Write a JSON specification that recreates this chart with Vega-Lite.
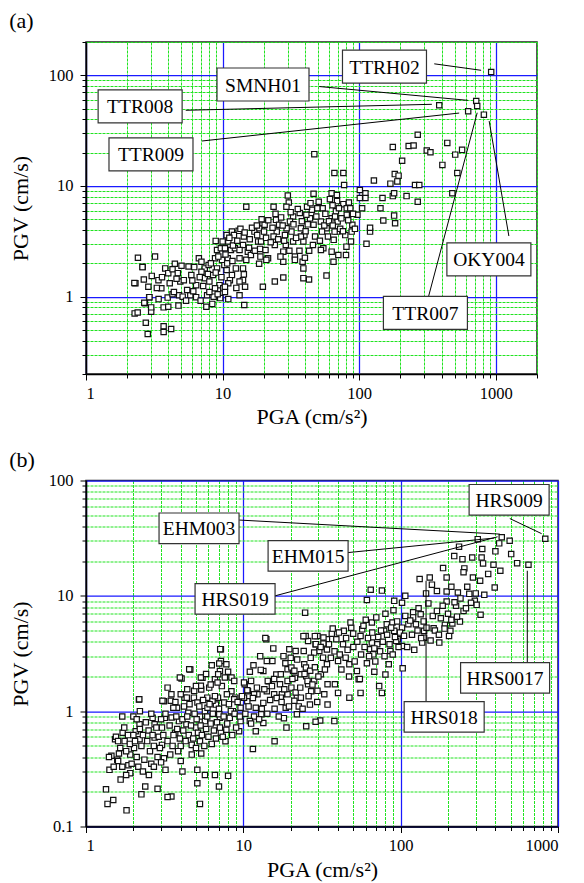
{
"$schema": "https://vega.github.io/schema/vega-lite/v6.json",
"padding": {"left": 8, "top": 9, "right": 10, "bottom": 2},
"spacing": 18.5,
"config": {
 "font": "Liberation Serif",
 "view": {"stroke": "#222", "strokeWidth": 1.5},
 "title": {"font": "Liberation Serif", "fontSize": 22, "fontWeight": "normal", "anchor": "start", "frame": "bounds", "offset": 1, "color": "black"},
 "text": {"font": "Liberation Serif"},
 "axis": {"labelFont": "Liberation Serif", "labelFontSize": 16.5, "labelColor": "black", "titleFont": "Liberation Serif", "titleFontSize": 22, "titleFontWeight": "normal", "titleColor": "black", "domainColor": "black", "domainWidth": 1.5, "tickColor": "black", "tickWidth": 1, "labelOverlap": false, "grid": true, "format": "~g"}
},
"datasets": {
 "a": [
  {"pga":924,"pgv":107},{"pga":718,"pgv":58.6},{"pga":730,"pgv":52.8},{"pga":627,"pgv":47.3},{"pga":817,"pgv":44.1},{"pga":385,"pgv":53.6},
  {"pga":176,"pgv":22.5},{"pga":206,"pgv":16.9},{"pga":230,"pgv":23},{"pga":250,"pgv":23.2},{"pga":268,"pgv":29},{"pga":312,"pgv":20.9},{"pga":332,"pgv":20.2},{"pga":406,"pgv":15.5},{"pga":441,"pgv":24.5},{"pga":504,"pgv":19.2},{"pga":566,"pgv":21.2},{"pga":522,"pgv":13.1},{"pga":480,"pgv":8.6},{"pga":169,"pgv":10.5},{"pga":182,"pgv":12.8},{"pga":194,"pgv":12.4},{"pga":190,"pgv":11},{"pga":176,"pgv":8.1},{"pga":180,"pgv":8.6},{"pga":222,"pgv":8.1},{"pga":256,"pgv":10.2},{"pga":275,"pgv":10.2},{"pga":268,"pgv":7.2},{"pga":128,"pgv":11.2},{"pga":143,"pgv":6.3},{"pga":148,"pgv":7.8},{"pga":150,"pgv":4.87},{"pga":180,"pgv":5.4},{"pga":183,"pgv":4.6},{"pga":113,"pgv":3.0},{"pga":120,"pgv":3.87},{"pga":120,"pgv":4.2},{"pga":111,"pgv":8.6},{"pga":111,"pgv":7.8},{"pga":105,"pgv":6.3},{"pga":101,"pgv":9.2},{"pga":101,"pgv":7.8},{"pga":97,"pgv":5.5},
  {"pga":46.9,"pgv":19.4},{"pga":65.8,"pgv":13.1},{"pga":76.5,"pgv":13.1},{"pga":77.5,"pgv":10.2},{"pga":46.3,"pgv":8.5},{"pga":62.8,"pgv":8.6},{"pga":68.6,"pgv":8.3},{"pga":68.8,"pgv":7.3},{"pga":76.5,"pgv":6.85},{"pga":84,"pgv":7.1},{"pga":81,"pgv":6.3},{"pga":81,"pgv":5.5},{"pga":67.5,"pgv":5.9},{"pga":63.8,"pgv":6.7},{"pga":62.8,"pgv":5.1},{"pga":69.5,"pgv":4.77},{"pga":68.8,"pgv":3.87},{"pga":66,"pgv":3.87},{"pga":65,"pgv":3.26},{"pga":62.8,"pgv":2.55},{"pga":64.8,"pgv":2.07},{"pga":70.3,"pgv":2.38},{"pga":79,"pgv":3.6},{"pga":80.6,"pgv":2.83},{"pga":80,"pgv":2.38},{"pga":89,"pgv":4.46},{"pga":87,"pgv":3.15},{"pga":88,"pgv":3.87},{"pga":57.6,"pgv":1.55},{"pga":57.7,"pgv":4.15},{"pga":54,"pgv":6.3},{"pga":49.3,"pgv":6.3},{"pga":52.4,"pgv":4.77},{"pga":53.4,"pgv":3.87},{"pga":54.6,"pgv":2.74},{"pga":52.4,"pgv":2.64},{"pga":45,"pgv":6.1},{"pga":43.6,"pgv":5.1},{"pga":41.5,"pgv":6.5},{"pga":41,"pgv":5.5},{"pga":46.3,"pgv":4.46},{"pga":45.8,"pgv":2.93},{"pga":39.7,"pgv":3.6},{"pga":39,"pgv":3.15},{"pga":37.4,"pgv":4.15},{"pga":37.4,"pgv":3.49},{"pga":36.7,"pgv":5.7},{"pga":38.5,"pgv":2.07},{"pga":39,"pgv":1.8},{"pga":39,"pgv":1.47},{"pga":42.9,"pgv":1.43},{"pga":40,"pgv":2.25},{"pga":33.8,"pgv":2.3},{"pga":33.8,"pgv":2.15},{"pga":32.8,"pgv":5.3},{"pga":31.1,"pgv":4.77},{"pga":31.9,"pgv":3.87},{"pga":32.8,"pgv":3.15},{"pga":29,"pgv":2.93},{"pga":27.8,"pgv":2.55},{"pga":28.6,"pgv":3.6},{"pga":29.4,"pgv":4.15},{"pga":30,"pgv":8.2},{"pga":30.5,"pgv":7.1},{"pga":29.3,"pgv":6.5},{"pga":27.8,"pgv":2.07},{"pga":27.8,"pgv":1.49},{"pga":24.1,"pgv":1.37},{"pga":23.6,"pgv":6.5},{"pga":24.6,"pgv":4.94},{"pga":25.9,"pgv":4.46},{"pga":24.9,"pgv":3.87},{"pga":23.6,"pgv":3.49},{"pga":24.1,"pgv":2.93},{"pga":18.2,"pgv":3.15},{"pga":17.1,"pgv":3.87},{"pga":18.6,"pgv":4.15},{"pga":19.6,"pgv":4.6},{"pga":20.3,"pgv":4.46},{"pga":20.1,"pgv":3.87},{"pga":17.9,"pgv":3.6},{"pga":19.1,"pgv":3.15},{"pga":18.8,"pgv":2.7},{"pga":20.6,"pgv":2.64},{"pga":21.5,"pgv":2.22},{"pga":20.9,"pgv":2.15},{"pga":18.5,"pgv":1.98},{"pga":19.7,"pgv":1.23},
  {"pga":10,"pgv":3.15},{"pga":11.7,"pgv":3.87},{"pga":13.1,"pgv":3.93},{"pga":12.1,"pgv":3.6},{"pga":10.7,"pgv":3.6},{"pga":8.9,"pgv":3.19},{"pga":9.1,"pgv":2.64},{"pga":9.7,"pgv":2.74},{"pga":10.4,"pgv":2.74},{"pga":11,"pgv":3.15},{"pga":11.5,"pgv":2.64},{"pga":12.3,"pgv":2.74},{"pga":14.3,"pgv":3.49},{"pga":14.1,"pgv":2.93},{"pga":14.9,"pgv":6.5},{"pga":13.3,"pgv":2.22},{"pga":14.9,"pgv":2.15},{"pga":15.3,"pgv":2.55},{"pga":15.6,"pgv":2.77},{"pga":16.1,"pgv":2.38},{"pga":14.1,"pgv":1.8},{"pga":14.3,"pgv":1.59},{"pga":14.1,"pgv":1.41},{"pga":14.6,"pgv":1.23},{"pga":12.5,"pgv":1.8},{"pga":11.7,"pgv":1.57},{"pga":11.3,"pgv":1.41},{"pga":11,"pgv":1.32},{"pga":10.7,"pgv":1.74},{"pga":10.3,"pgv":1.93},{"pga":10.9,"pgv":2.22},{"pga":9.9,"pgv":2.15},{"pga":13.3,"pgv":2.64},{"pga":13.3,"pgv":1.37},
  {"pga":2.4,"pgv":2.25},{"pga":3.2,"pgv":2.3},{"pga":2.6,"pgv":1.85},{"pga":2.3,"pgv":1.32},{"pga":2.65,"pgv":1.43},{"pga":2.86,"pgv":1.23},{"pga":3.03,"pgv":1.54},{"pga":3.39,"pgv":1.41},{"pga":3.56,"pgv":1.19},{"pga":3.8,"pgv":1.8},{"pga":4.0,"pgv":1.63},{"pga":4.47,"pgv":1.98},{"pga":4.3,"pgv":1.77},{"pga":4.1,"pgv":1.32},{"pga":4.7,"pgv":1.63},{"pga":4.9,"pgv":1.37},{"pga":5.63,"pgv":1.87},{"pga":5.2,"pgv":1.41},{"pga":5.9,"pgv":1.57},{"pga":6.4,"pgv":1.27},{"pga":6.7,"pgv":2.22},{"pga":7.0,"pgv":2.07},{"pga":7.4,"pgv":1.8},{"pga":7.0,"pgv":1.68},{"pga":7.4,"pgv":1.47},{"pga":7.9,"pgv":1.93},{"pga":8.0,"pgv":1.37},{"pga":8.5,"pgv":1.57},{"pga":8.8,"pgv":2.22},{"pga":9.1,"pgv":1.8},{"pga":9.5,"pgv":1.27},{"pga":10.1,"pgv":1.19},{"pga":8.8,"pgv":1.19},{"pga":2.27,"pgv":0.706},{"pga":2.39,"pgv":0.72},{"pga":2.7,"pgv":0.87},{"pga":2.9,"pgv":0.99},{"pga":3.0,"pgv":0.73},{"pga":2.74,"pgv":0.58},{"pga":2.83,"pgv":0.46},{"pga":3.0,"pgv":0.8},{"pga":3.7,"pgv":0.8},{"pga":3.7,"pgv":0.54},{"pga":3.7,"pgv":0.48},{"pga":4.2,"pgv":0.51},{"pga":3.4,"pgv":0.95},{"pga":3.96,"pgv":0.98},{"pga":4.0,"pgv":0.81},{"pga":4.3,"pgv":1.05},{"pga":4.75,"pgv":0.83},{"pga":4.8,"pgv":1.03},{"pga":5.1,"pgv":1.0},{"pga":5.8,"pgv":1.03},{"pga":6.4,"pgv":0.99},{"pga":7.6,"pgv":0.81},{"pga":7.7,"pgv":1.03},{"pga":8.4,"pgv":0.86},{"pga":8.6,"pgv":1.0},{"pga":9.6,"pgv":0.97},{"pga":10.4,"pgv":1.1},{"pga":11,"pgv":0.95},{"pga":13.3,"pgv":1.03},{"pga":14.4,"pgv":0.84},{"pga":10.4,"pgv":1.23},{"pga":2.59,"pgv":1.85},{"pga":2.26,"pgv":1.33},{"pga":2.67,"pgv":0.88},{"pga":2.91,"pgv":0.99},
  {"pga":10.5,"pgv":2.4},{"pga":11.2,"pgv":3.4},{"pga":11.9,"pgv":2.9},{"pga":12.8,"pgv":3.2},{"pga":13.5,"pgv":4.1},{"pga":14.5,"pgv":3.8},{"pga":15.8,"pgv":3.3},{"pga":16.4,"pgv":4.2},{"pga":17.2,"pgv":2.6},{"pga":17.8,"pgv":4.4},{"pga":18.9,"pgv":2.3},{"pga":19.3,"pgv":5.0},{"pga":20.8,"pgv":3.4},{"pga":21.6,"pgv":4.9},{"pga":22.5,"pgv":3.1},{"pga":23.2,"pgv":4.2},{"pga":24.4,"pgv":5.6},{"pga":25.5,"pgv":3.3},{"pga":26.5,"pgv":2.3},{"pga":26.8,"pgv":5.2},{"pga":27.5,"pgv":4.4},{"pga":28.2,"pgv":3.2},{"pga":30.8,"pgv":2.6},{"pga":31.5,"pgv":5.8},{"pga":33,"pgv":4.5},{"pga":34.5,"pgv":3.4},{"pga":35.5,"pgv":6.2},{"pga":36.5,"pgv":2.6},{"pga":38,"pgv":4.8},{"pga":40.5,"pgv":3.9},{"pga":42,"pgv":4.5},{"pga":43,"pgv":2.6},{"pga":44,"pgv":7.0},{"pga":47.5,"pgv":3.5},{"pga":48.5,"pgv":5.3},{"pga":50.5,"pgv":7.2},{"pga":51.5,"pgv":3.2},{"pga":55.5,"pgv":4.4},{"pga":56.5,"pgv":5.6},{"pga":59,"pgv":3.5},{"pga":60,"pgv":4.8},{"pga":61,"pgv":7.6},{"pga":64,"pgv":4.4},{"pga":66.5,"pgv":5.3},{"pga":71,"pgv":6.3},{"pga":72.5,"pgv":4.1},{"pga":74,"pgv":5.1},{"pga":76,"pgv":3.9},{"pga":83,"pgv":4.9},{"pga":86,"pgv":6.3},{"pga":90,"pgv":5.6},{"pga":93,"pgv":4.1},{"pga":3.3,"pgv":1.2},{"pga":3.6,"pgv":1.5},{"pga":4.4,"pgv":1.1},{"pga":4.6,"pgv":1.45},{"pga":5.0,"pgv":1.9},{"pga":5.5,"pgv":1.15},{"pga":6.0,"pgv":1.4},{"pga":6.2,"pgv":1.85},{"pga":6.8,"pgv":1.5},{"pga":7.2,"pgv":1.25},{"pga":7.8,"pgv":1.6},{"pga":8.2,"pgv":2.0},{"pga":8.9,"pgv":1.65},{"pga":9.3,"pgv":2.3},{"pga":9.8,"pgv":1.5},{"pga":10.8,"pgv":2.0},{"pga":11.8,"pgv":2.1},{"pga":12.6,"pgv":1.2},{"pga":5.4,"pgv":0.92},{"pga":6.1,"pgv":1.12},{"pga":6.9,"pgv":0.92},{"pga":8.0,"pgv":1.1},{"pga":9.2,"pgv":1.05}
 ],
 "b": [
  {"pga":830,"pgv":31.3},{"pga":439,"pgv":32.2},{"pga":493,"pgv":30},{"pga":423,"pgv":28.5},{"pga":309,"pgv":31},{"pga":235,"pgv":26.7},{"pga":330,"pgv":25.5},{"pga":327,"pgv":21.5},{"pga":285,"pgv":21.5},{"pga":219,"pgv":22.1},{"pga":247,"pgv":20.8},{"pga":504,"pgv":23},{"pga":400,"pgv":24.3},{"pga":550,"pgv":19.2},{"pga":649,"pgv":18.6},{"pga":334,"pgv":19.1},{"pga":389,"pgv":18.6},{"pga":186,"pgv":17.4},{"pga":254,"pgv":17.3},{"pga":251,"pgv":16},{"pga":288,"pgv":14.4},{"pga":196,"pgv":14.4},{"pga":153,"pgv":14.4},{"pga":132,"pgv":14},{"pga":158,"pgv":12.5},{"pga":396,"pgv":11.8},{"pga":145,"pgv":10.5},{"pga":107,"pgv":10},{"pga":91,"pgv":9.05},{"pga":102,"pgv":8.7},{"pga":76,"pgv":11.1},{"pga":64.5,"pgv":11.3},{"pga":61,"pgv":9.2},{"pga":196,"pgv":10.9},{"pga":231,"pgv":10.7},{"pga":273,"pgv":10.4},{"pga":340,"pgv":10.2},{"pga":296,"pgv":9.06},{"pga":304,"pgv":8.35},{"pga":322,"pgv":6.85},{"pga":196,"pgv":8.93},{"pga":225,"pgv":8.2},{"pga":251,"pgv":7.4},{"pga":238,"pgv":5.98},{"pga":213,"pgv":5.75},{"pga":207,"pgv":4.97},{"pga":203,"pgv":4.49},{"pga":176,"pgv":3.93},{"pga":191,"pgv":5.6},{"pga":162,"pgv":5.23},{"pga":141,"pgv":4.97},{"pga":141,"pgv":4.34},{"pga":137,"pgv":3.93},{"pga":134,"pgv":6.93},{"pga":120,"pgv":7.2},{"pga":120,"pgv":6.5},{"pga":125,"pgv":5.67},{"pga":112,"pgv":5.67},{"pga":107,"pgv":6.7},{"pga":102,"pgv":5.3},{"pga":99,"pgv":4.8},{"pga":96,"pgv":4.2},{"pga":102,"pgv":3.67},{"pga":103,"pgv":2.35},{"pga":86,"pgv":3.32},{"pga":84,"pgv":2.55},{"pga":80,"pgv":2.08},{"pga":76,"pgv":1.44},{"pga":73,"pgv":1.65},{"pga":71,"pgv":3.8},{"pga":65.6,"pgv":3.93},{"pga":64,"pgv":3.44},{"pga":67,"pgv":3.11},{"pga":78.5,"pgv":4.97},{"pga":81.6,"pgv":5.67},{"pga":88.7,"pgv":5.87},{"pga":91,"pgv":4.97},{"pga":93.6,"pgv":4.06},{"pga":65.6,"pgv":5.87},{"pga":57,"pgv":5.12},{"pga":55.6,"pgv":4.49},{"pga":48.5,"pgv":5.3},{"pga":48,"pgv":5.87},{"pga":49.9,"pgv":4.7},{"pga":43.5,"pgv":4.97},{"pga":40.5,"pgv":4.8},{"pga":36.5,"pgv":4.7},{"pga":34,"pgv":4.2},{"pga":29.6,"pgv":4.49},{"pga":28.8,"pgv":3.8},{"pga":30.4,"pgv":3.32},{"pga":32.1,"pgv":2.91},{"pga":34,"pgv":2.55},{"pga":40,"pgv":2.72},{"pga":44.7,"pgv":2.91},{"pga":47.2,"pgv":2.55},{"pga":52.7,"pgv":2.23},{"pga":54.1,"pgv":1.89},{"pga":55.6,"pgv":1.44},{"pga":47.2,"pgv":1.31},{"pga":40,"pgv":1.44},{"pga":37.9,"pgv":0.82},{"pga":34.3,"pgv":1.14},{"pga":30.8,"pgv":0.83},{"pga":28.8,"pgv":0.81},{"pga":25.1,"pgv":0.74},{"pga":26.5,"pgv":1.14},{"pga":27,"pgv":1.49},{"pga":25.8,"pgv":1.71},{"pga":25.1,"pgv":2.01},{"pga":24.4,"pgv":2.55},{"pga":24.2,"pgv":3.32},{"pga":25.8,"pgv":4.06},{"pga":24.7,"pgv":7.15},{"pga":24.9,"pgv":4.49},{"pga":21.5,"pgv":3.32},{"pga":19.6,"pgv":3.44},{"pga":20.7,"pgv":2.23},{"pga":21.3,"pgv":1.95},{"pga":20.2,"pgv":1.6},{"pga":21.9,"pgv":1.31},{"pga":22.5,"pgv":1.1},{"pga":21.9,"pgv":0.94},{"pga":18.8,"pgv":0.72},{"pga":18.1,"pgv":0.87},{"pga":18.6,"pgv":1.07},{"pga":17.6,"pgv":1.4},{"pga":17.1,"pgv":1.71},{"pga":16.2,"pgv":2.08},{"pga":15.8,"pgv":0.548},{"pga":15.3,"pgv":2.72},{"pga":14.1,"pgv":2.72},{"pga":14,"pgv":4.2},{"pga":14.5,"pgv":1.82},{"pga":14.1,"pgv":1.49},{"pga":13.4,"pgv":1.18},{"pga":13,"pgv":0.94},{"pga":13.4,"pgv":2.23},{"pga":13.4,"pgv":0.79},{"pga":12.3,"pgv":1.4},{"pga":12,"pgv":1.07},{"pga":11.7,"pgv":0.9},{"pga":12,"pgv":0.67},{"pga":11.5,"pgv":0.47},{"pga":11,"pgv":0.82},{"pga":10.7,"pgv":1.49},{"pga":10.6,"pgv":1.22},{"pga":10.2,"pgv":1.71},{"pga":9.6,"pgv":1.07},{"pga":9.6,"pgv":0.82},{"pga":9.4,"pgv":0.67},{"pga":8.9,"pgv":1.31},{"pga":8.4,"pgv":1.49},{"pga":8.6,"pgv":1.0},{"pga":8.2,"pgv":0.875},{"pga":7.8,"pgv":0.69},{"pga":7.7,"pgv":0.548},{"pga":7.8,"pgv":2.55},{"pga":7.2,"pgv":3.44},{"pga":7.2,"pgv":2.72},{"pga":7.1,"pgv":2.23},{"pga":7.3,"pgv":1.65},{"pga":6.9,"pgv":1.31},{"pga":6.7,"pgv":1.14},{"pga":7.1,"pgv":0.875},{"pga":7.2,"pgv":0.65},{"pga":7.0,"pgv":0.222},{"pga":8.0,"pgv":0.275},{"pga":6.6,"pgv":0.28},{"pga":5.7,"pgv":0.28},{"pga":5.3,"pgv":0.157},{"pga":5.1,"pgv":0.237},{"pga":5.1,"pgv":0.31},{"pga":6.6,"pgv":1.89},{"pga":5.9,"pgv":1.31},{"pga":5.7,"pgv":1.0},{"pga":5.7,"pgv":0.82},{"pga":5.5,"pgv":1.95},{"pga":5.4,"pgv":1.54},{"pga":5.3,"pgv":0.9},{"pga":5.0,"pgv":0.72},{"pga":5.3,"pgv":0.548},{"pga":5.4,"pgv":0.43},{"pga":4.7,"pgv":0.51},{"pga":4.7,"pgv":0.42},{"pga":4.6,"pgv":2.3},{"pga":4.85,"pgv":1.31},{"pga":4.47,"pgv":0.97},{"pga":4.35,"pgv":0.77},{"pga":4.23,"pgv":1.31},{"pga":4.05,"pgv":1.92},{"pga":3.79,"pgv":1.07},{"pga":3.9,"pgv":0.82},{"pga":3.69,"pgv":0.65},{"pga":4.0,"pgv":0.5},{"pga":4.0,"pgv":0.37},{"pga":4.1,"pgv":0.3},{"pga":3.49,"pgv":1.4},{"pga":3.59,"pgv":1.07},{"pga":3.43,"pgv":0.42},{"pga":3.49,"pgv":0.182},{"pga":3.3,"pgv":0.18},{"pga":3.2,"pgv":0.31},{"pga":3.13,"pgv":1.22},{"pga":3.17,"pgv":0.875},{"pga":3.04,"pgv":0.72},{"pga":3.04,"pgv":0.51},{"pga":3.13,"pgv":0.39},{"pga":2.85,"pgv":0.212},{"pga":2.73,"pgv":0.77},{"pga":2.73,"pgv":0.59},{"pga":2.65,"pgv":0.875},{"pga":2.51,"pgv":0.28},{"pga":2.38,"pgv":0.222},{"pga":2.25,"pgv":0.19},{"pga":2.19,"pgv":0.57},{"pga":2.19,"pgv":0.77},{"pga":2.17,"pgv":1.26},{"pga":2.07,"pgv":0.67},{"pga":2.02,"pgv":0.48},{"pga":2.0,"pgv":0.9},{"pga":1.86,"pgv":0.34},{"pga":1.91,"pgv":0.42},{"pga":1.91,"pgv":0.29},{"pga":1.76,"pgv":0.55},{"pga":1.71,"pgv":0.65},{"pga":1.81,"pgv":0.138},{"pga":1.66,"pgv":0.255},{"pga":1.62,"pgv":0.43},{"pga":1.58,"pgv":0.38},{"pga":1.53,"pgv":0.57},{"pga":1.49,"pgv":0.17},{"pga":1.45,"pgv":0.41},{"pga":1.41,"pgv":0.31},{"pga":1.37,"pgv":0.157},{"pga":1.34,"pgv":0.21},
  {"pga":32.3,"pgv":4.35},{"pga":32.3,"pgv":3.86},{"pga":28.9,"pgv":3.81},{"pga":28.2,"pgv":3.22},{"pga":34,"pgv":3.42},{"pga":24.1,"pgv":4.47},{"pga":28.5,"pgv":4.47},{"pga":13.8,"pgv":4.3},{"pga":7.13,"pgv":3.45},{"pga":4.53,"pgv":2.31},{"pga":5.37,"pgv":1.96},{"pga":7.03,"pgv":2.59},{"pga":6.92,"pgv":2.09},{"pga":6.86,"pgv":1.77},{"pga":7.63,"pgv":1.96},{"pga":8.41,"pgv":1.96},{"pga":8.75,"pgv":1.83},{"pga":7.86,"pgv":1.4},{"pga":8.75,"pgv":1.27},{"pga":3.95,"pgv":1.96},{"pga":4.0,"pgv":1.4},{"pga":3.46,"pgv":1.23},{"pga":3.06,"pgv":1.23},{"pga":2.18,"pgv":1.27},{"pga":4.37,"pgv":1.31},{"pga":4.87,"pgv":1.5},{"pga":5.37,"pgv":1.66},{"pga":6.07,"pgv":1.6},{"pga":6.37,"pgv":1.23},{"pga":5.11,"pgv":1.19},{"pga":5.92,"pgv":1.07},{"pga":7.56,"pgv":1.19},{"pga":7.03,"pgv":0.94},{"pga":8.33,"pgv":1.0},{"pga":10.1,"pgv":1.77},{"pga":11.2,"pgv":1.83},{"pga":10.6,"pgv":1.52},{"pga":10.1,"pgv":1.31},{"pga":11.7,"pgv":1.4},{"pga":12.9,"pgv":2.28},{"pga":14.3,"pgv":1.83},{"pga":15.7,"pgv":1.9},{"pga":17.3,"pgv":2.09},{"pga":19.1,"pgv":2.31},{"pga":20.2,"pgv":2.39},{"pga":21.1,"pgv":2.24},{"pga":19.1,"pgv":1.83},{"pga":23.2,"pgv":2.09},{"pga":25,"pgv":2.39},{"pga":26.6,"pgv":2.24},{"pga":25.6,"pgv":1.83},{"pga":28.2,"pgv":1.83},{"pga":31.1,"pgv":2.09},{"pga":34.3,"pgv":1.71},{"pga":38.2,"pgv":1.71},{"pga":29.6,"pgv":1.5},{"pga":32.7,"pgv":1.4},{"pga":19.1,"pgv":1.4},{"pga":17.3,"pgv":1.31},{"pga":15.7,"pgv":1.4},{"pga":21.1,"pgv":1.23},{"pga":23.2,"pgv":1.31},
  {"pga":1.55,"pgv":0.6},{"pga":1.6,"pgv":0.37},{"pga":1.65,"pgv":0.48},{"pga":1.7,"pgv":0.33},{"pga":1.75,"pgv":0.72},{"pga":1.8,"pgv":0.45},{"pga":1.85,"pgv":0.62},{"pga":1.9,"pgv":0.52},{"pga":1.95,"pgv":0.35},{"pga":2.0,"pgv":0.62},{"pga":2.05,"pgv":0.55},{"pga":2.1,"pgv":0.4},{"pga":2.15,"pgv":0.33},{"pga":2.2,"pgv":0.7},{"pga":2.25,"pgv":0.5},{"pga":2.3,"pgv":0.62},{"pga":2.35,"pgv":0.38},{"pga":2.4,"pgv":0.8},{"pga":2.45,"pgv":0.55},{"pga":2.5,"pgv":0.68},{"pga":2.55,"pgv":0.45},{"pga":2.6,"pgv":0.35},{"pga":2.65,"pgv":0.62},{"pga":2.7,"pgv":0.5},{"pga":2.8,"pgv":0.72},{"pga":2.85,"pgv":0.4},{"pga":2.9,"pgv":0.6},{"pga":2.95,"pgv":0.48},{"pga":3.0,"pgv":0.85},{"pga":1.7,"pgv":0.9},{"pga":2.1,"pgv":0.85},{"pga":2.6,"pgv":0.95},{"pga":2.2,"pgv":1.0},{"pga":1.6,"pgv":0.55},{"pga":1.4,"pgv":0.4},{"pga":1.5,"pgv":0.33},{"pga":1.8,"pgv":0.28},{"pga":2.3,"pgv":0.3},{"pga":2.7,"pgv":0.33},{"pga":3.0,"pgv":0.36},
  {"pga":3.1,"pgv":0.62},{"pga":3.2,"pgv":0.95},{"pga":3.3,"pgv":0.55},{"pga":3.4,"pgv":0.75},{"pga":3.5,"pgv":0.88},{"pga":3.55,"pgv":0.5},{"pga":3.6,"pgv":0.62},{"pga":3.7,"pgv":1.2},{"pga":3.75,"pgv":0.9},{"pga":3.8,"pgv":0.7},{"pga":3.85,"pgv":0.45},{"pga":3.95,"pgv":0.58},{"pga":4.1,"pgv":0.85},{"pga":4.15,"pgv":0.68},{"pga":4.2,"pgv":1.1},{"pga":4.3,"pgv":0.55},{"pga":4.4,"pgv":0.9},{"pga":4.5,"pgv":0.62},{"pga":4.55,"pgv":1.15},{"pga":4.65,"pgv":0.75},{"pga":4.8,"pgv":0.58},{"pga":4.9,"pgv":0.95},{"pga":5.0,"pgv":0.48},{"pga":5.05,"pgv":0.85},{"pga":5.15,"pgv":0.65},{"pga":5.25,"pgv":1.1},{"pga":5.35,"pgv":0.75},{"pga":5.45,"pgv":0.62},{"pga":5.55,"pgv":1.25},{"pga":5.65,"pgv":0.5},{"pga":5.8,"pgv":0.7},{"pga":5.9,"pgv":0.9},{"pga":6.0,"pgv":0.6},{"pga":6.1,"pgv":1.15},{"pga":6.2,"pgv":0.78},{"pga":6.3,"pgv":0.52},{"pga":6.4,"pgv":0.95},{"pga":6.5,"pgv":0.68},{"pga":6.6,"pgv":1.35},{"pga":6.7,"pgv":0.58},{"pga":6.8,"pgv":0.8},{"pga":7.0,"pgv":1.05},{"pga":7.1,"pgv":0.72},{"pga":7.4,"pgv":0.6},{"pga":7.5,"pgv":0.9},{"pga":7.9,"pgv":0.78},{"pga":8.1,"pgv":1.15},{"pga":8.5,"pgv":0.62},{"pga":8.8,"pgv":0.95},{"pga":9.0,"pgv":0.72},{"pga":9.2,"pgv":1.2},{"pga":9.5,"pgv":0.9},{"pga":9.8,"pgv":1.35},{"pga":6.2,"pgv":1.7},{"pga":5.0,"pgv":1.65},{"pga":4.4,"pgv":1.55},{"pga":3.3,"pgv":1.6},{"pga":5.8,"pgv":2.1},{"pga":6.3,"pgv":2.5},{"pga":8.0,"pgv":2.2},
  {"pga":10.3,"pgv":0.95},{"pga":10.8,"pgv":1.1},{"pga":11.2,"pgv":0.78},{"pga":11.5,"pgv":1.3},{"pga":12.2,"pgv":1.6},{"pga":12.6,"pgv":0.85},{"pga":13.1,"pgv":1.05},{"pga":13.6,"pgv":1.55},{"pga":14.2,"pgv":0.95},{"pga":14.8,"pgv":1.25},{"pga":15.2,"pgv":1.65},{"pga":15.8,"pgv":1.05},{"pga":16.3,"pgv":1.3},{"pga":16.8,"pgv":0.9},{"pga":17.5,"pgv":1.2},{"pga":18.2,"pgv":1.55},{"pga":18.5,"pgv":2.6},{"pga":19.5,"pgv":1.1},{"pga":20.5,"pgv":1.9},{"pga":21.5,"pgv":1.45},{"pga":22,"pgv":2.8},{"pga":23,"pgv":1.6},{"pga":23.8,"pgv":1.05},{"pga":24.5,"pgv":2.1},{"pga":26,"pgv":1.35},{"pga":26.8,"pgv":2.9},{"pga":27.5,"pgv":1.7},{"pga":28.5,"pgv":2.4},{"pga":29.5,"pgv":1.2},{"pga":30,"pgv":2.0},{"pga":12.8,"pgv":3.0},{"pga":15.5,"pgv":3.5},{"pga":18.0,"pgv":3.0},{"pga":20.0,"pgv":2.9},{"pga":11.6,"pgv":2.5},{"pga":11.0,"pgv":2.2},
  {"pga":31,"pgv":3.6},{"pga":33,"pgv":2.3},{"pga":35,"pgv":3.8},{"pga":36,"pgv":2.9},{"pga":37,"pgv":5.2},{"pga":38,"pgv":3.3},{"pga":39,"pgv":4.2},{"pga":41,"pgv":3.1},{"pga":42,"pgv":2.3},{"pga":43,"pgv":3.8},{"pga":45,"pgv":4.3},{"pga":46,"pgv":3.4},{"pga":47,"pgv":2.0},{"pga":50,"pgv":3.6},{"pga":51,"pgv":2.7},{"pga":53,"pgv":4.0},{"pga":56,"pgv":3.1},{"pga":58,"pgv":5.5},{"pga":59,"pgv":3.6},{"pga":61,"pgv":2.6},{"pga":62,"pgv":4.3},{"pga":63,"pgv":3.0},{"pga":66,"pgv":4.8},{"pga":68,"pgv":3.5},{"pga":69,"pgv":2.7},{"pga":72,"pgv":4.4},{"pga":74,"pgv":3.3},{"pga":75,"pgv":5.0},{"pga":77,"pgv":4.0},{"pga":79,"pgv":3.0},{"pga":82,"pgv":4.6},{"pga":85,"pgv":3.8},{"pga":87,"pgv":5.3},{"pga":89,"pgv":3.1},{"pga":92,"pgv":4.4},{"pga":95,"pgv":6.0},{"pga":97,"pgv":3.6},{"pga":60,"pgv":6.2},{"pga":70,"pgv":6.5},{"pga":80,"pgv":7.0},{"pga":90,"pgv":7.5},{"pga":55,"pgv":1.9},{"pga":68,"pgv":2.2},
  {"pga":105,"pgv":4.5},{"pga":110,"pgv":3.6},{"pga":115,"pgv":6.1},{"pga":118,"pgv":4.6},{"pga":122,"pgv":3.4},{"pga":128,"pgv":5.0},{"pga":130,"pgv":7.8},{"pga":135,"pgv":4.3},{"pga":140,"pgv":6.0},{"pga":146,"pgv":5.3},{"pga":150,"pgv":8.6},{"pga":155,"pgv":4.1},{"pga":160,"pgv":6.7},{"pga":165,"pgv":5.0},{"pga":170,"pgv":7.4},{"pga":175,"pgv":4.6},{"pga":180,"pgv":6.4},{"pga":185,"pgv":8.2},{"pga":190,"pgv":5.2},{"pga":200,"pgv":7.0},{"pga":210,"pgv":6.2},{"pga":220,"pgv":8.8},{"pga":228,"pgv":6.6},{"pga":240,"pgv":9.5},{"pga":260,"pgv":7.8},{"pga":280,"pgv":8.7},{"pga":300,"pgv":10.5},{"pga":265,"pgv":12.0},{"pga":320,"pgv":13.5},{"pga":360,"pgv":15.5},{"pga":430,"pgv":16.5},{"pga":210,"pgv":12.0},{"pga":170,"pgv":11.0}
 ],
 "ra": [
  {"pga":354,"pgv":127,"pga2":780,"pgv2":111},
  {"pga":51,"pgv":79.2,"pga2":624,"pgv2":59.4},
  {"pga":5.37,"pgv":48.3,"pga2":340,"pgv2":54.7},
  {"pga":7.07,"pgv":25.5,"pga2":539,"pgv2":45.6},
  {"pga":1245,"pgv":3.53,"pga2":893,"pgv2":38.6},
  {"pga":322,"pgv":1.01,"pga2":730,"pgv2":45.9}
 ],
 "ta": [
  {"label":"TTRH02","pga":153,"pgv":120},
  {"label":"SMNH01","pga":19.75,"pgv":82.6},
  {"label":"TTR008","pga":2.49,"pgv":52.3},
  {"label":"TTR009","pga":2.99,"pgv":19.3},
  {"label":"OKY004","pga":889,"pgv":2.17},
  {"label":"TTR007","pga":305,"pgv":0.712}
 ],
 "rb": [
  {"pga":494,"pgv":46.8,"pga2":787,"pgv2":34.6},
  {"pga":9.42,"pgv":45.4,"pga2":427,"pgv2":34.3},
  {"pga":46.0,"pgv":23.7,"pga2":394,"pgv2":31.7},
  {"pga":15.9,"pgv":10.0,"pga2":413,"pgv2":32.5},
  {"pga":638,"pgv":16.5,"pga2":638,"pgv2":2.64},
  {"pga":145,"pgv":13.5,"pga2":145,"pgv2":1.21}
 ],
 "tb": [
  {"label":"HRS009","pga":489,"pgv":68.0},
  {"label":"EHM003","pga":5.23,"pgv":38.5},
  {"label":"EHM015","pga":25.8,"pgv":22.2},
  {"label":"HRS019","pga":8.86,"pgv":9.42},
  {"label":"HRS0017","pga":461,"pgv":1.945},
  {"label":"HRS018","pga":189,"pgv":0.892}
 ]
},
"vconcat": [
 {
  "title": {"text": "(a)"},
  "width": 451, "height": 332,
  "encoding": {
   "x": {"field": "pga", "type": "quantitative", "scale": {"type": "log", "domain": [1, 2000], "nice": false},
    "axis": {"title": "PGA (cm/s²)", "titlePadding": 5, "labelPadding": 5,
     "values": [1,2,3,4,5,6,7,8,9,10,20,30,40,50,60,70,80,90,100,200,300,400,500,600,700,800,900,1000,2000],
     "labelExpr": "indexof([0.1,1,10,100,1000], datum.value) >= 0 ? datum.label : ''",
     "gridColor": {"condition": {"test": "indexof([0.1,1,10,100,1000], datum.value) >= 0", "value": "#1a1aff"}, "value": "#22e322"},
     "gridWidth": {"condition": {"test": "indexof([0.1,1,10,100,1000], datum.value) >= 0", "value": 1.25}, "value": 1},
     "gridDash": {"condition": {"test": "indexof([0.1,1,10,100,1000], datum.value) >= 0", "value": []}, "value": [3, 1]},
     "tickSize": {"condition": {"test": "indexof([0.1,1,10,100,1000], datum.value) >= 0", "value": 6}, "value": 4}}},
   "y": {"field": "pgv", "type": "quantitative", "scale": {"type": "log", "domain": [0.2, 200], "nice": false},
    "axis": {"title": "PGV (cm/s)", "titlePadding": 16, "labelPadding": 7,
     "values": [0.2,0.3,0.4,0.5,0.6,0.7,0.8,0.9,1,2,3,4,5,6,7,8,9,10,20,30,40,50,60,70,80,90,100,200],
     "labelExpr": "indexof([0.1,1,10,100,1000], datum.value) >= 0 ? datum.label : ''",
     "gridColor": {"condition": {"test": "indexof([0.1,1,10,100,1000], datum.value) >= 0", "value": "#1a1aff"}, "value": "#22e322"},
     "gridWidth": {"condition": {"test": "indexof([0.1,1,10,100,1000], datum.value) >= 0", "value": 1.25}, "value": 1},
     "gridDash": {"condition": {"test": "indexof([0.1,1,10,100,1000], datum.value) >= 0", "value": []}, "value": [3, 1]},
     "tickSize": {"condition": {"test": "indexof([0.1,1,10,100,1000], datum.value) >= 0", "value": 6}, "value": 4}}}
  },
  "layer": [
   {
    "data": {"name": "a"},
    "mark": {"type": "point", "shape": "square", "filled": false, "fill": "white", "fillOpacity": 1, "stroke": "#111", "strokeWidth": 1.2, "size": 28, "opacity": 1}
   },
   {
    "data": {"name": "ra"},
    "mark": {"type": "rule", "color": "black", "strokeWidth": 1},
    "encoding": {"x2": {"field": "pga2"}, "y2": {"field": "pgv2"}}
   },
   {
    "data": {"name": "ta"},
    "transform": [{"filter": "datum.label != 'SMNH01'"}],
    "mark": {"type": "rect", "fill": "white", "stroke": "#333", "strokeWidth": 1.2, "xOffset": -42, "x2Offset": 42, "yOffset": -16.5, "y2Offset": 16.5},
    "encoding": {"x2": {"field": "pga"}, "y2": {"field": "pgv"}}
   },
   {
    "data": {"name": "ta"},
    "transform": [{"filter": "datum.label == 'SMNH01'"}],
    "mark": {"type": "rect", "fill": "white", "stroke": "#333", "strokeWidth": 1.2, "xOffset": -46, "x2Offset": 46, "yOffset": -16.5, "y2Offset": 16.5},
    "encoding": {"x2": {"field": "pga"}, "y2": {"field": "pgv"}}
   },
   {
    "data": {"name": "ta"},
    "mark": {"type": "text", "fontSize": 19.5, "color": "black", "align": "center", "baseline": "middle", "dy": 1},
    "encoding": {"text": {"field": "label"}}
   }
  ]
 },
 {
  "title": {"text": "(b)"},
  "width": 472, "height": 346,
  "encoding": {
   "x": {"field": "pga", "type": "quantitative", "scale": {"type": "log", "domain": [1, 1000], "nice": false},
    "axis": {"title": "PGA (cm/s²)", "titlePadding": 5, "labelPadding": 5,
     "values": [1,2,3,4,5,6,7,8,9,10,20,30,40,50,60,70,80,90,100,200,300,400,500,600,700,800,900,1000],
     "labelExpr": "indexof([0.1,1,10,100,1000], datum.value) >= 0 ? datum.label : ''",
     "gridColor": {"condition": {"test": "indexof([0.1,1,10,100,1000], datum.value) >= 0", "value": "#1a1aff"}, "value": "#22e322"},
     "gridWidth": {"condition": {"test": "indexof([0.1,1,10,100,1000], datum.value) >= 0", "value": 1.25}, "value": 1},
     "gridDash": {"condition": {"test": "indexof([0.1,1,10,100,1000], datum.value) >= 0", "value": []}, "value": [3, 1]},
     "tickSize": {"condition": {"test": "indexof([0.1,1,10,100,1000], datum.value) >= 0", "value": 6}, "value": 4}}},
   "y": {"field": "pgv", "type": "quantitative", "scale": {"type": "log", "domain": [0.1, 100], "nice": false},
    "axis": {"title": "PGV (cm/s)", "titlePadding": 16, "labelPadding": 7,
     "values": [0.1,0.2,0.3,0.4,0.5,0.6,0.7,0.8,0.9,1,2,3,4,5,6,7,8,9,10,20,30,40,50,60,70,80,90,100],
     "labelExpr": "indexof([0.1,1,10,100,1000], datum.value) >= 0 ? datum.label : ''",
     "gridColor": {"condition": {"test": "indexof([0.1,1,10,100,1000], datum.value) >= 0", "value": "#1a1aff"}, "value": "#22e322"},
     "gridWidth": {"condition": {"test": "indexof([0.1,1,10,100,1000], datum.value) >= 0", "value": 1.25}, "value": 1},
     "gridDash": {"condition": {"test": "indexof([0.1,1,10,100,1000], datum.value) >= 0", "value": []}, "value": [3, 1]},
     "tickSize": {"condition": {"test": "indexof([0.1,1,10,100,1000], datum.value) >= 0", "value": 6}, "value": 4}}}
  },
  "layer": [
   {
    "data": {"name": "b"},
    "mark": {"type": "point", "shape": "square", "filled": false, "fill": "white", "fillOpacity": 1, "stroke": "#111", "strokeWidth": 1.2, "size": 28, "opacity": 1}
   },
   {
    "data": {"name": "rb"},
    "mark": {"type": "rule", "color": "black", "strokeWidth": 1},
    "encoding": {"x2": {"field": "pga2"}, "y2": {"field": "pgv2"}}
   },
   {
    "data": {"name": "tb"},
    "transform": [{"filter": "datum.label != 'HRS0017'"}],
    "mark": {"type": "rect", "fill": "white", "stroke": "#333", "strokeWidth": 1.2, "xOffset": -40, "x2Offset": 40, "yOffset": -15.3, "y2Offset": 15.3},
    "encoding": {"x2": {"field": "pga"}, "y2": {"field": "pgv"}}
   },
   {
    "data": {"name": "tb"},
    "transform": [{"filter": "datum.label == 'HRS0017'"}],
    "mark": {"type": "rect", "fill": "white", "stroke": "#333", "strokeWidth": 1.2, "xOffset": -44.5, "x2Offset": 44.5, "yOffset": -15.3, "y2Offset": 15.3},
    "encoding": {"x2": {"field": "pga"}, "y2": {"field": "pgv"}}
   },
   {
    "data": {"name": "tb"},
    "mark": {"type": "text", "fontSize": 19.5, "color": "black", "align": "center", "baseline": "middle", "dy": 1},
    "encoding": {"text": {"field": "label"}}
   }
  ]
 }
]
}
